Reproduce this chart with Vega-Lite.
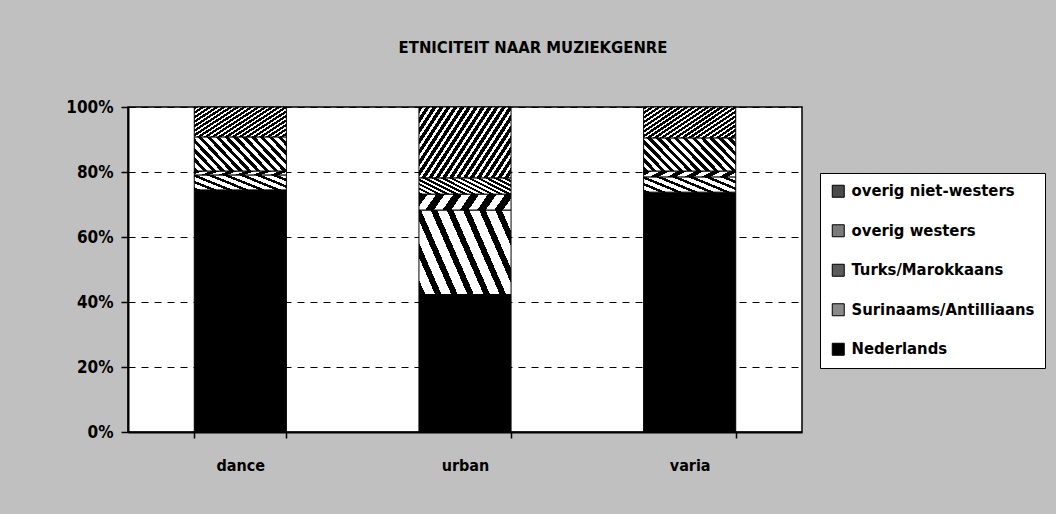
{
  "$schema": "https://vega.github.io/schema/vega-lite/v6.json",
  "width": 674,
  "height": 325,
  "autosize": {"type": "none"},
  "padding": {"left": 128, "top": 107, "right": 254, "bottom": 82},
  "background": "#c0c0c0",
  "title": {"text": "ETNICITEIT NAAR MUZIEKGENRE", "font": "DejaVu Sans Condensed", "fontSize": 16.5, "fontWeight": "bold", "color": "black", "anchor": "middle", "dx": 68, "offset": 42},
  "data": {"values": [
    {"genre": "dance", "groep": "Nederlands", "pct": 74.5},
    {"genre": "dance", "groep": "Surinaams/Antilliaans", "pct": 4.6},
    {"genre": "dance", "groep": "Turks/Marokkaans", "pct": 1.2},
    {"genre": "dance", "groep": "overig westers", "pct": 10.5},
    {"genre": "dance", "groep": "overig niet-westers", "pct": 9.2},
    {"genre": "urban", "groep": "Nederlands", "pct": 42.3},
    {"genre": "urban", "groep": "Surinaams/Antilliaans", "pct": 26.0},
    {"genre": "urban", "groep": "Turks/Marokkaans", "pct": 4.9},
    {"genre": "urban", "groep": "overig westers", "pct": 5.0},
    {"genre": "urban", "groep": "overig niet-westers", "pct": 21.8},
    {"genre": "varia", "groep": "Nederlands", "pct": 73.8},
    {"genre": "varia", "groep": "Surinaams/Antilliaans", "pct": 4.7},
    {"genre": "varia", "groep": "Turks/Marokkaans", "pct": 1.8},
    {"genre": "varia", "groep": "overig westers", "pct": 10.2},
    {"genre": "varia", "groep": "overig niet-westers", "pct": 9.5}
  ]},
  "transform": [{"stack": "pct", "groupby": ["genre"], "as": ["lo", "hi"], "offset": "normalize"}],
  "encoding": {
    "x": {"field": "genre", "type": "nominal", "sort": ["dance", "urban", "varia"],
      "scale": {"paddingInner": 0.59, "paddingOuter": 0.295},
      "axis": {"title": null, "labelAngle": 0, "tickBand": "extent", "domainColor": "black", "domainWidth": 2, "tickColor": "black", "tickWidth": 1.5, "tickSize": 6, "labelPadding": 19, "labelFont": "DejaVu Sans Condensed", "labelFontSize": 16, "labelFontWeight": "bold", "labelColor": "black"}},
    "y": {"field": "lo", "type": "quantitative", "scale": {"domain": [0, 1]},
      "axis": {"title": null, "format": ".0%", "values": [0, 0.2, 0.4, 0.6, 0.8, 1], "grid": true, "gridColor": "black", "gridDash": [7, 6], "gridWidth": 1, "domainColor": "black", "domainWidth": 2, "tickColor": "black", "tickWidth": 1.5, "tickSize": 7, "labelPadding": 8, "labelFont": "DejaVu Sans Condensed", "labelFontSize": 17, "labelFontWeight": "bold", "labelColor": "black"}},
    "y2": {"field": "hi"}
  },
  "layer": [
    {
      "mark": {"type": "bar", "opacity": 0},
      "encoding": {
        "color": {"field": "groep", "type": "nominal",
          "scale": {
            "domain": ["overig niet-westers", "overig westers", "Turks/Marokkaans", "Surinaams/Antilliaans", "Nederlands"],
            "range": ["#4a4a4a", "#7a7a7a", "#5a5a5a", "#8a8a8a", "#000000"]
          },
          "legend": {"title": null, "orient": "none", "legendX": 692, "legendY": 66, "direction": "vertical", "fillColor": "white", "strokeColor": "black", "padding": 10, "symbolType": "square", "symbolSize": 144, "symbolStrokeColor": "black", "symbolStrokeWidth": 1, "symbolOpacity": 1, "labelFont": "DejaVu Sans Condensed", "labelFontSize": 16.5, "labelFontWeight": "bold", "labelColor": "black", "rowPadding": 22.5, "labelOffset": 5, "labelLimit": 300}
        }
      }
    },
    {
      "transform": [{"filter": "datum.groep === 'Nederlands'"}],
      "mark": {"type": "bar", "fill": "#000", "stroke": "black", "strokeWidth": 1}
    },
    {
      "transform": [{"filter": "datum.groep === 'Surinaams/Antilliaans'"}],
      "mark": {"type": "bar", "stroke": "black", "strokeWidth": 1, "fill": {"gradient": "linear", "x1": 0, "y1": 1, "x2": 1.21, "y2": 0.516, "stops": [
        {"offset": 0, "color": "#000"}, {"offset": 0.05, "color": "#000"}, {"offset": 0.05, "color": "#fff"}, {"offset": 0.125, "color": "#fff"},
        {"offset": 0.125, "color": "#000"}, {"offset": 0.175, "color": "#000"}, {"offset": 0.175, "color": "#fff"}, {"offset": 0.25, "color": "#fff"},
        {"offset": 0.25, "color": "#000"}, {"offset": 0.3, "color": "#000"}, {"offset": 0.3, "color": "#fff"}, {"offset": 0.375, "color": "#fff"},
        {"offset": 0.375, "color": "#000"}, {"offset": 0.425, "color": "#000"}, {"offset": 0.425, "color": "#fff"}, {"offset": 0.5, "color": "#fff"},
        {"offset": 0.5, "color": "#000"}, {"offset": 0.55, "color": "#000"}, {"offset": 0.55, "color": "#fff"}, {"offset": 0.625, "color": "#fff"},
        {"offset": 0.625, "color": "#000"}, {"offset": 0.675, "color": "#000"}, {"offset": 0.675, "color": "#fff"}, {"offset": 0.75, "color": "#fff"},
        {"offset": 0.75, "color": "#000"}, {"offset": 0.8, "color": "#000"}, {"offset": 0.8, "color": "#fff"}, {"offset": 0.875, "color": "#fff"},
        {"offset": 0.875, "color": "#000"}, {"offset": 0.925, "color": "#000"}, {"offset": 0.925, "color": "#fff"}, {"offset": 1, "color": "#fff"}
      ]}}
    },
    {
      "transform": [{"filter": "datum.groep === 'Turks/Marokkaans'"}],
      "mark": {"type": "bar", "stroke": "black", "strokeWidth": 1, "fill": {"gradient": "linear", "x1": 0, "y1": 0, "x2": 1.11, "y2": 0.133, "stops": [
        {"offset": 0, "color": "#000"}, {"offset": 0.083, "color": "#000"}, {"offset": 0.083, "color": "#fff"}, {"offset": 0.167, "color": "#fff"},
        {"offset": 0.167, "color": "#000"}, {"offset": 0.25, "color": "#000"}, {"offset": 0.25, "color": "#fff"}, {"offset": 0.333, "color": "#fff"},
        {"offset": 0.333, "color": "#000"}, {"offset": 0.417, "color": "#000"}, {"offset": 0.417, "color": "#fff"}, {"offset": 0.5, "color": "#fff"},
        {"offset": 0.5, "color": "#000"}, {"offset": 0.583, "color": "#000"}, {"offset": 0.583, "color": "#fff"}, {"offset": 0.667, "color": "#fff"},
        {"offset": 0.667, "color": "#000"}, {"offset": 0.75, "color": "#000"}, {"offset": 0.75, "color": "#fff"}, {"offset": 0.833, "color": "#fff"},
        {"offset": 0.833, "color": "#000"}, {"offset": 0.917, "color": "#000"}, {"offset": 0.917, "color": "#fff"}, {"offset": 1, "color": "#fff"}
      ]}}
    },
    {
      "transform": [{"filter": "datum.groep === 'overig westers'"}],
      "mark": {"type": "bar", "stroke": "black", "strokeWidth": 1, "fill": {"gradient": "linear", "x1": 0, "y1": 1, "x2": 1.2, "y2": 0.58, "stops": [
        {"offset": 0, "color": "#000"}, {"offset": 0.036, "color": "#000"}, {"offset": 0.036, "color": "#fff"}, {"offset": 0.071, "color": "#fff"},
        {"offset": 0.071, "color": "#000"}, {"offset": 0.107, "color": "#000"}, {"offset": 0.107, "color": "#fff"}, {"offset": 0.143, "color": "#fff"},
        {"offset": 0.143, "color": "#000"}, {"offset": 0.179, "color": "#000"}, {"offset": 0.179, "color": "#fff"}, {"offset": 0.214, "color": "#fff"},
        {"offset": 0.214, "color": "#000"}, {"offset": 0.25, "color": "#000"}, {"offset": 0.25, "color": "#fff"}, {"offset": 0.286, "color": "#fff"},
        {"offset": 0.286, "color": "#000"}, {"offset": 0.321, "color": "#000"}, {"offset": 0.321, "color": "#fff"}, {"offset": 0.357, "color": "#fff"},
        {"offset": 0.357, "color": "#000"}, {"offset": 0.393, "color": "#000"}, {"offset": 0.393, "color": "#fff"}, {"offset": 0.429, "color": "#fff"},
        {"offset": 0.429, "color": "#000"}, {"offset": 0.464, "color": "#000"}, {"offset": 0.464, "color": "#fff"}, {"offset": 0.5, "color": "#fff"},
        {"offset": 0.5, "color": "#000"}, {"offset": 0.536, "color": "#000"}, {"offset": 0.536, "color": "#fff"}, {"offset": 0.571, "color": "#fff"},
        {"offset": 0.571, "color": "#000"}, {"offset": 0.607, "color": "#000"}, {"offset": 0.607, "color": "#fff"}, {"offset": 0.643, "color": "#fff"},
        {"offset": 0.643, "color": "#000"}, {"offset": 0.679, "color": "#000"}, {"offset": 0.679, "color": "#fff"}, {"offset": 0.714, "color": "#fff"},
        {"offset": 0.714, "color": "#000"}, {"offset": 0.75, "color": "#000"}, {"offset": 0.75, "color": "#fff"}, {"offset": 0.786, "color": "#fff"},
        {"offset": 0.786, "color": "#000"}, {"offset": 0.821, "color": "#000"}, {"offset": 0.821, "color": "#fff"}, {"offset": 0.857, "color": "#fff"},
        {"offset": 0.857, "color": "#000"}, {"offset": 0.893, "color": "#000"}, {"offset": 0.893, "color": "#fff"}, {"offset": 0.929, "color": "#fff"},
        {"offset": 0.929, "color": "#000"}, {"offset": 0.964, "color": "#000"}, {"offset": 0.964, "color": "#fff"}, {"offset": 1, "color": "#fff"}
      ]}}
    },
    {
      "transform": [{"filter": "datum.groep === 'overig niet-westers'"}],
      "mark": {"type": "bar", "stroke": "black", "strokeWidth": 1, "fill": {"gradient": "linear", "x1": 0, "y1": 0, "x2": 1.2, "y2": 0.6, "stops": [
        {"offset": 0, "color": "#000"}, {"offset": 0.03, "color": "#000"}, {"offset": 0.03, "color": "#fff"}, {"offset": 0.05, "color": "#fff"},
        {"offset": 0.05, "color": "#000"}, {"offset": 0.08, "color": "#000"}, {"offset": 0.08, "color": "#fff"}, {"offset": 0.10, "color": "#fff"},
        {"offset": 0.10, "color": "#000"}, {"offset": 0.13, "color": "#000"}, {"offset": 0.13, "color": "#fff"}, {"offset": 0.15, "color": "#fff"},
        {"offset": 0.15, "color": "#000"}, {"offset": 0.18, "color": "#000"}, {"offset": 0.18, "color": "#fff"}, {"offset": 0.20, "color": "#fff"},
        {"offset": 0.20, "color": "#000"}, {"offset": 0.23, "color": "#000"}, {"offset": 0.23, "color": "#fff"}, {"offset": 0.25, "color": "#fff"},
        {"offset": 0.25, "color": "#000"}, {"offset": 0.28, "color": "#000"}, {"offset": 0.28, "color": "#fff"}, {"offset": 0.30, "color": "#fff"},
        {"offset": 0.30, "color": "#000"}, {"offset": 0.33, "color": "#000"}, {"offset": 0.33, "color": "#fff"}, {"offset": 0.35, "color": "#fff"},
        {"offset": 0.35, "color": "#000"}, {"offset": 0.38, "color": "#000"}, {"offset": 0.38, "color": "#fff"}, {"offset": 0.40, "color": "#fff"},
        {"offset": 0.40, "color": "#000"}, {"offset": 0.43, "color": "#000"}, {"offset": 0.43, "color": "#fff"}, {"offset": 0.45, "color": "#fff"},
        {"offset": 0.45, "color": "#000"}, {"offset": 0.48, "color": "#000"}, {"offset": 0.48, "color": "#fff"}, {"offset": 0.50, "color": "#fff"},
        {"offset": 0.50, "color": "#000"}, {"offset": 0.53, "color": "#000"}, {"offset": 0.53, "color": "#fff"}, {"offset": 0.55, "color": "#fff"},
        {"offset": 0.55, "color": "#000"}, {"offset": 0.58, "color": "#000"}, {"offset": 0.58, "color": "#fff"}, {"offset": 0.60, "color": "#fff"},
        {"offset": 0.60, "color": "#000"}, {"offset": 0.63, "color": "#000"}, {"offset": 0.63, "color": "#fff"}, {"offset": 0.65, "color": "#fff"},
        {"offset": 0.65, "color": "#000"}, {"offset": 0.68, "color": "#000"}, {"offset": 0.68, "color": "#fff"}, {"offset": 0.70, "color": "#fff"},
        {"offset": 0.70, "color": "#000"}, {"offset": 0.73, "color": "#000"}, {"offset": 0.73, "color": "#fff"}, {"offset": 0.75, "color": "#fff"},
        {"offset": 0.75, "color": "#000"}, {"offset": 0.78, "color": "#000"}, {"offset": 0.78, "color": "#fff"}, {"offset": 0.80, "color": "#fff"},
        {"offset": 0.80, "color": "#000"}, {"offset": 0.83, "color": "#000"}, {"offset": 0.83, "color": "#fff"}, {"offset": 0.85, "color": "#fff"},
        {"offset": 0.85, "color": "#000"}, {"offset": 0.88, "color": "#000"}, {"offset": 0.88, "color": "#fff"}, {"offset": 0.90, "color": "#fff"},
        {"offset": 0.90, "color": "#000"}, {"offset": 0.93, "color": "#000"}, {"offset": 0.93, "color": "#fff"}, {"offset": 0.95, "color": "#fff"},
        {"offset": 0.95, "color": "#000"}, {"offset": 0.98, "color": "#000"}, {"offset": 0.98, "color": "#fff"}, {"offset": 1, "color": "#fff"}
      ]}}
    }
  ],
  "config": {"view": {"fill": "white", "stroke": "black", "strokeWidth": 1.5}}
}
